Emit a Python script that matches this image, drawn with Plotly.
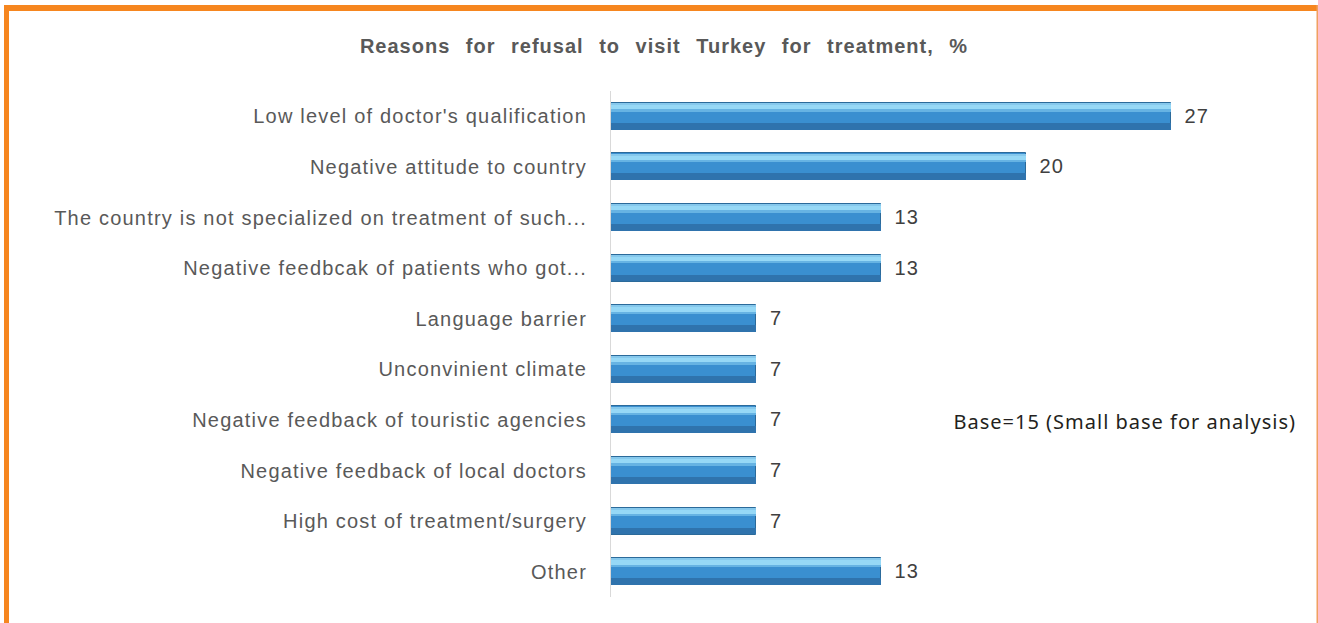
import plotly.graph_objects as go

# Survey results: reasons for refusing treatment in Turkey (share of respondents, %)
reasons = [
    "Low level of doctor's qualification",
    "Negative attitude to country",
    "The country is not specialized on treatment of such...",
    "Negative feedbcak of patients who got...",
    "Language barrier",
    "Unconvinient climate",
    "Negative feedback of touristic agencies",
    "Negative feedback of local doctors",
    "High cost of treatment/surgery",
    "Other",
]
shares = [27, 20, 13, 13, 7, 7, 7, 7, 7, 13]

title_text = "Reasons for refusal to visit Turkey for treatment, %"
base_note = "Base=15 (Small base for analysis)"

W, H = 1318, 623
M_L, M_R, M_T, M_B = 611, 85, 91, 26
PLOT_W = W - M_L - M_R
PLOT_H = H - M_T - M_B
FONT = "Liberation Sans, Arial, sans-serif"


def px_x(p):
    return (p - M_L) / PLOT_W


def px_y(p):
    return (H - M_B - p) / PLOT_H


BAR_W = 0.534
fig = go.Figure()

# main bar body with value labels
fig.add_trace(go.Bar(
    x=shares, y=reasons, orientation="h", width=BAR_W,
    marker=dict(color="#3a8fd0", line=dict(color="#2b6a9a", width=1)),
    texttemplate="\u00a0\u00a0%{x}", textposition="outside", cliponaxis=False,
    textfont=dict(family=FONT, size=20, color="#404040"),
    hoverinfo="x+y",
))

# shading bands that give the bars a rounded, glossy look
bands = [
    (-0.262, 0.040, "#86c8ec"),
    (-0.222, 0.080, "#96d8f6"),
    (-0.142, 0.050, "#66b3e3"),
    (0.130, 0.132, "#2f73ad"),
]
for off, wid, col in bands:
    fig.add_trace(go.Bar(
        x=shares, y=reasons, orientation="h", width=wid, offset=off,
        marker=dict(color=col, line=dict(width=0)), hoverinfo="skip",
    ))

frame = "#f6861f"
shapes = [
    # orange frame: thick top and left, thin right
    dict(type="rect", xref="paper", yref="paper",
         x0=px_x(4), x1=px_x(1318), y0=px_y(11), y1=px_y(5),
         fillcolor=frame, line=dict(width=0), layer="above"),
    dict(type="rect", xref="paper", yref="paper",
         x0=px_x(4), x1=px_x(9), y0=px_y(623), y1=px_y(5),
         fillcolor=frame, line=dict(width=0), layer="above"),
    dict(type="rect", xref="paper", yref="paper",
         x0=px_x(1316.5), x1=px_x(1318), y0=px_y(623), y1=px_y(5),
         fillcolor="#f0a060", line=dict(width=0), layer="above"),
]

fig.update_layout(
    width=W, height=H,
    margin=dict(l=M_L, r=M_R, t=M_T, b=M_B, autoexpand=False),
    paper_bgcolor="white", plot_bgcolor="white",
    barmode="overlay", bargap=0, showlegend=False,
    title=dict(text=f"<b>{title_text}</b>", x=664 / W, xanchor="center",
               y=1 - 46 / H, yanchor="middle", xref="container", yref="container",
               font=dict(family=FONT, size=20, color="#595959")),
    xaxis=dict(range=[0, 30], visible=False, fixedrange=True),
    yaxis=dict(autorange="reversed", showline=True, linecolor="#d9d9d9", linewidth=1,
               showgrid=False, zeroline=False, ticks="", ticklabelstandoff=19,
               tickfont=dict(family=FONT, size=20, color="#595959")),
    shapes=shapes,
    annotations=[dict(
        text=base_note, xref="paper", yref="paper", x=px_x(1125), y=px_y(421),
        xanchor="center", yanchor="middle", showarrow=False,
        font=dict(family="Noto Sans, Open Sans, sans-serif", size=20, color="#231f20"),
    )],
)

# widen the lettering of the rendered texts
spacing_js = """
var gd = document.getElementById('{plot_id}');
function spread(sel, ls, ws) {
  gd.querySelectorAll(sel).forEach(function (t) {
    t.style.letterSpacing = ls;
    if (ws) { t.style.wordSpacing = ws; }
  });
}
spread('g.ytick text', '1.2px');
spread('text.gtitle', '1px', '9px');
spread('text.annotation-text', '1px');
spread('text.bartext', '1px');
"""

fig.write_html("out.html", post_script=spacing_js)
